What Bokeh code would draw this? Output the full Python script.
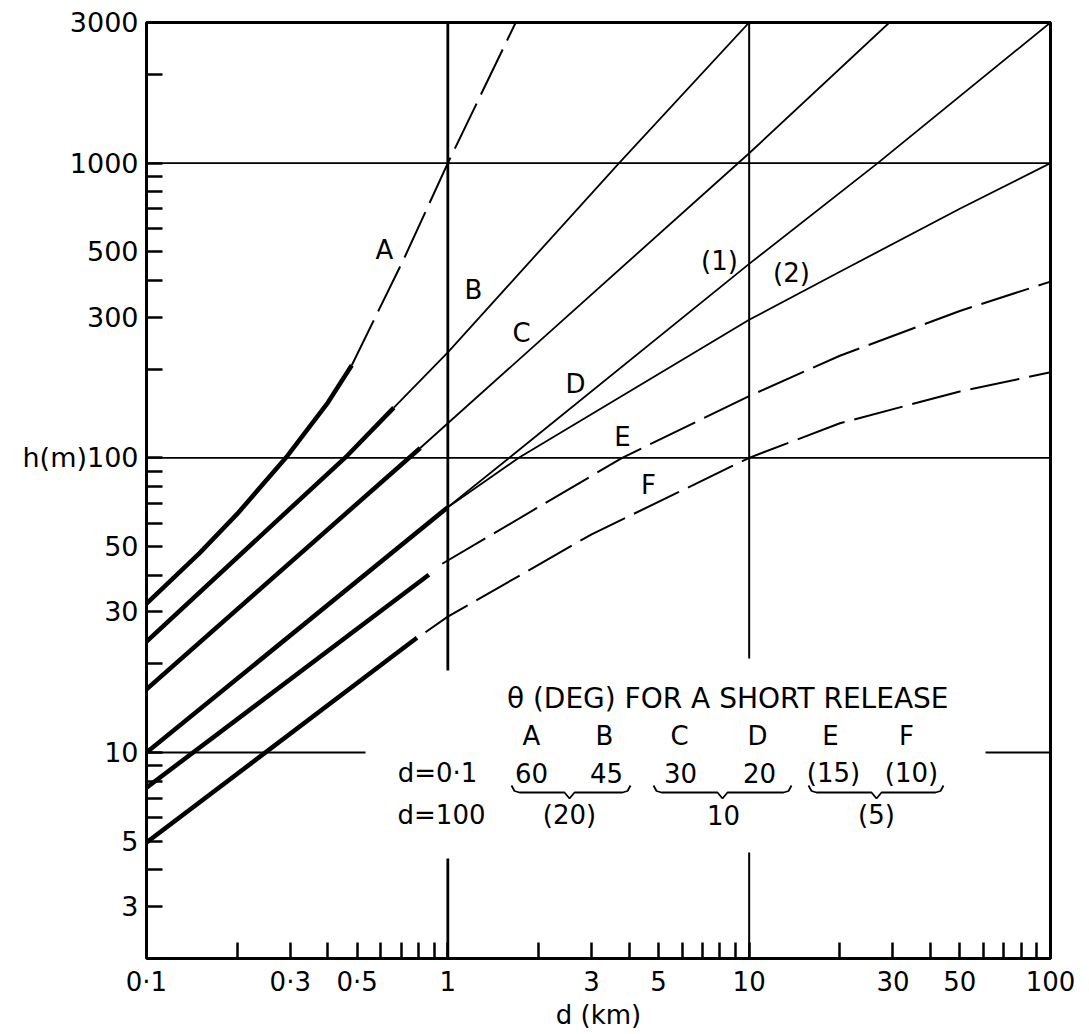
from bokeh.plotting import figure
from bokeh.models import Range1d, FixedTicker, Label
from bokeh.embed import file_html
from bokeh.resources import INLINE

# ---------------- data ----------------
# curve A
a_thick_d = [0.1, 0.15, 0.2, 0.29, 0.4, 0.48]
a_thick_h = [32, 47.5, 64.5, 100, 154, 206]
a_dash_d = [0.48, 0.716, 1.0, 1.68]
a_dash_h = [206, 475, 1000, 3000]
# curve B
b_thick_d = [0.1, 0.465, 0.662]
b_thick_h = [23.8, 102, 148]
b_thin_d = [0.662, 1.0, 3.7, 10]
b_thin_h = [148, 228, 1000, 3000]
# curve C
c_thick_d = [0.1, 0.81]
c_thick_h = [16.4, 108]
c_thin_d = [0.81, 1.0, 10, 29.2]
c_thin_h = [108, 131, 1080, 3000]
# curve D (splits into (1) and (2) at d = 1 km)
d_thick_d = [0.1, 1.0]
d_thick_h = [10, 68]
d1_d = [1.0, 1.6, 10, 26.7, 100]
d1_h = [68, 100, 455, 1000, 3000]
d2_d = [1.0, 1.72, 10, 20, 50, 100]
d2_h = [68, 100, 294, 428, 700, 1000]
# curve E
e_thick_d = [0.1, 0.865]
e_thick_h = [7.6, 40.1]
e_dash_d = [0.958, 3.79, 10, 20, 50, 100]
e_dash_h = [43.7, 100, 162, 222, 315, 396]
# curve F
f_thick_d = [0.1, 0.79]
f_thick_h = [4.95, 24.5]
f_dash_d = [0.843, 1.0, 3, 10, 20, 50, 100]
f_dash_h = [25.6, 28.9, 55, 100, 131, 168, 195]

# axis ticks
x_major = [0.1, 0.3, 0.5, 1, 3, 5, 10, 30, 50, 100]
x_labels = ["0·1", "0·3", "0·5", "1", "3", "5", "10", "30", "50", "100"]
x_minor = [0.2, 0.4, 0.6, 0.7, 0.8, 0.9, 2, 4, 6, 7, 8, 9,
           20, 40, 60, 70, 80, 90]
y_major = [3, 5, 10, 30, 50, 100, 300, 500, 1000, 3000]
y_labels = ["3", "5", "10", "30", "50", "h(m)100", "300", "500", "1000", "3000"]
y_minor = [4, 6, 7, 8, 9, 20, 40, 60, 70, 80, 90,
           200, 400, 600, 700, 800, 900, 2000]

# table of angles
tbl_letters = ["A", "B", "C", "D", "E", "F"]
tbl_d01 = ["60", "45", "30", "20", "(15)", "(10)"]
tbl_d100 = ["(20)", "10", "(5)"]

FONT = "DejaVu Sans"


# pixel (reference picture) -> data coordinates, for placing annotations
def dx(px):
    return 10 ** (-1 + (px - 146) / 301.33)


def dy(py):
    return 3000 * 10 ** (-(py - 22) / 294.7)


p = figure(width=1085, height=1032, x_axis_type="log", y_axis_type="log",
           x_range=Range1d(0.1, 100), y_range=Range1d(2, 3000),
           output_backend="svg", toolbar_location=None,
           min_border_left=146, min_border_right=35,
           min_border_top=22, min_border_bottom=74)
p.background_fill_color = "white"
p.border_fill_color = "white"
p.outline_line_color = "black"
p.outline_line_width = 3
p.xgrid.visible = False
p.ygrid.visible = False

for ax, maj, lab, mnr in ((p.xaxis[0], x_major, x_labels, x_minor),
                          (p.yaxis[0], y_major, y_labels, y_minor)):
    ax.ticker = FixedTicker(ticks=maj, minor_ticks=mnr)
    ax.major_label_overrides = {v: t for v, t in zip(maj, lab)}
    ax.axis_line_color = None
    ax.major_tick_in = 16
    ax.major_tick_out = 0
    ax.minor_tick_in = 16
    ax.minor_tick_out = 0
    ax.major_tick_line_width = 2.5
    ax.minor_tick_line_width = 2.5
    ax.major_tick_line_color = "black"
    ax.minor_tick_line_color = "black"
    ax.major_label_text_font = FONT
    ax.major_label_text_color = "black"

p.yaxis[0].major_label_text_font_size = "27px"
p.xaxis[0].major_label_text_font_size = "26px"
p.yaxis[0].major_label_standoff = 8
p.xaxis[0].major_label_standoff = 8
p.xaxis[0].axis_label = "d (km)"
p.xaxis[0].axis_label_text_font = FONT
p.xaxis[0].axis_label_text_font_size = "26px"
p.xaxis[0].axis_label_text_font_style = "normal"
p.xaxis[0].axis_label_text_color = "black"
p.xaxis[0].axis_label_standoff = 0

# ---------------- reference lines (with gaps for the table) ----------------
p.segment(x0=[1, 1], y0=[3000, dy(858)], x1=[1, 1], y1=[dy(670), 2],
          line_color="black", line_width=2.8)
p.segment(x0=[10, 10], y0=[3000, dy(852)], x1=[10, 10], y1=[dy(658), 2],
          line_color="black", line_width=2)
p.segment(x0=[0.1, 0.1], y0=[100, 1000], x1=[100, 100], y1=[100, 1000],
          line_color="black", line_width=1.8)
p.segment(x0=[0.1, dx(985)], y0=[10, 10], x1=[dx(365), 100], y1=[10, 10],
          line_color="black", line_width=1.8)

# ---------------- curves ----------------
THICK, THIN, DASH = 4.5, 1.8, "50 10"
for xs, ys in ((a_thick_d, a_thick_h), (b_thick_d, b_thick_h),
               (c_thick_d, c_thick_h), (d_thick_d, d_thick_h),
               (e_thick_d, e_thick_h), (f_thick_d, f_thick_h)):
    p.line(xs, ys, line_color="black", line_width=THICK, line_join="round")
for xs, ys in ((b_thin_d, b_thin_h), (c_thin_d, c_thin_h),
               (d1_d, d1_h), (d2_d, d2_h)):
    p.line(xs, ys, line_color="black", line_width=THIN)
for xs, ys in ((a_dash_d, a_dash_h), (e_dash_d, e_dash_h),
               (f_dash_d, f_dash_h)):
    p.line(xs, ys, line_color="black", line_width=2.0, line_dash=DASH)


def label(px, py, text, size="26px"):
    p.add_layout(Label(x=dx(px), y=dy(py), text=text, text_font=FONT,
                       text_font_size=size, text_color="black",
                       text_align="center", text_baseline="middle"))


# curve labels
for (px, py), t in zip([(384, 249), (473, 289), (521, 332), (575, 383),
                        (622, 436), (648, 484), (719, 260), (791, 272)],
                       ["A", "B", "C", "D", "E", "F", "(1)", "(2)"]):
    label(px, py, t)

# table
label(745, 698, "θ (DEG)  FOR  A  SHORT  RELEASE", "28px")
for px, t in zip([531, 604, 679, 757, 830, 906], tbl_letters):
    label(px, 735, t)
label(437, 772, "d=0·1")
for px, t in zip([531, 606, 680, 759, 833, 911], tbl_d01):
    label(px, 772, t)
label(441, 814, "d=100")
for px, t in zip([569, 723, 876], tbl_d100):
    label(px, 814, t)


def brace(x0, x1, xt, yb=792):
    pts = [(x0, yb - 7), (x0 + 3, yb - 1.5), (x0 + 8, yb), (xt - 5, yb),
           (xt, yb + 6), (xt + 5, yb), (x1 - 8, yb), (x1 - 3, yb - 1.5),
           (x1, yb - 7)]
    p.line([dx(a) for a, _ in pts], [dy(b) for _, b in pts],
           line_color="black", line_width=1.8)


brace(511, 630, 569)
brace(653, 791, 722)
brace(808, 943, 876)

open("out.html", "w").write(file_html(p, INLINE))
